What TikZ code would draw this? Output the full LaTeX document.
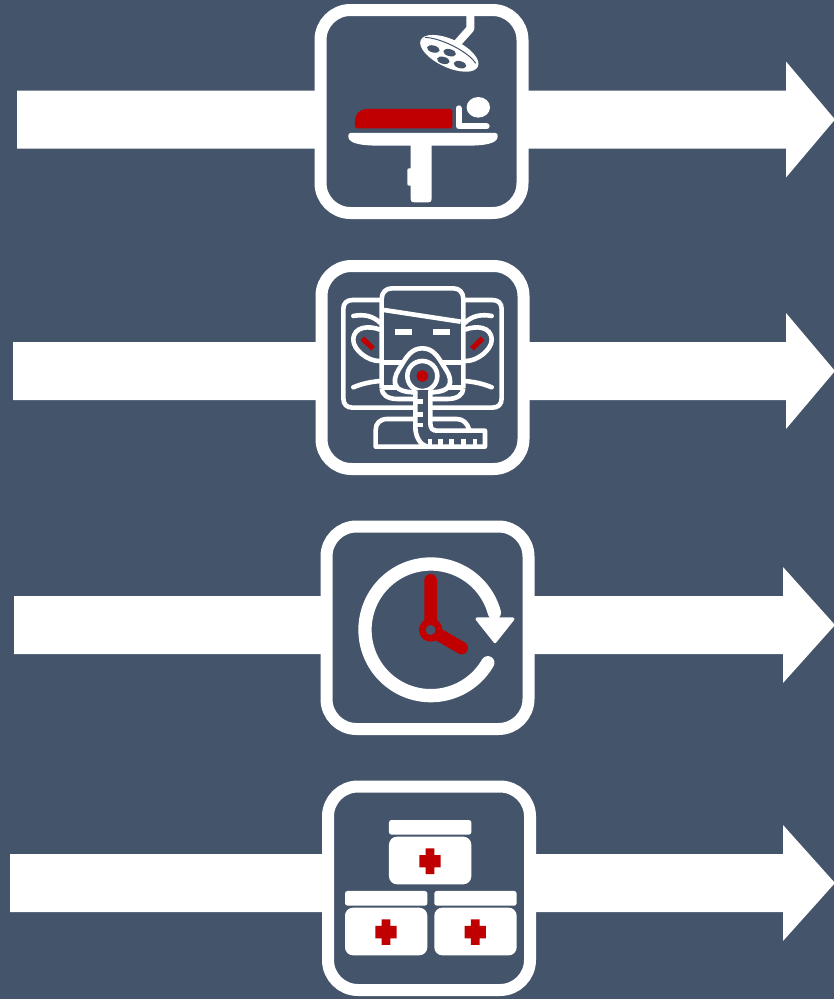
\documentclass[tikz,border=0pt]{standalone}
\definecolor{bgblue}{HTML}{44546A}
\definecolor{redmark}{HTML}{C00000}
\tikzset{
  bandarrow/.style={fill=white,draw=none},
  framebox/.style={draw=white,line width=12pt,rounded corners=30pt,fill=bgblue},
  thin line/.style={draw=white,line width=4.6pt,line cap=butt,line join=round},
  zoomed/.style={x=0.3333pt,y=-0.3333pt},
}
\newcommand{\bandarrow}[3]{% x start, y centre, head x
  \fill[bandarrow] (#1,#2-29) -- (#3,#2-29) -- (#3,#2-58) -- (835,#2) -- (#3,#2+58) -- (#3,#2+29) -- (#1,#2+29) -- cycle;}
\begin{document}
\begin{tikzpicture}[x=1pt,y=-1pt]
\useasboundingbox (0,0) rectangle (834,999);
\fill[bgblue] (0,0) rectangle (834,999);
\bandarrow{17}{119.5}{786}
\bandarrow{13}{371}{786}
\bandarrow{14}{625}{783}
\bandarrow{10}{883}{783}
\draw[framebox] (320.5,10) rectangle (522.5,213);
\draw[framebox] (321.5,266) rectangle (523.5,469);
\draw[framebox] (326.5,526.5) rectangle (528.5,729);
\draw[framebox] (328,786.5) rectangle (530,990);
% Icon 1: operating table
\begin{scope}[shift={(310,0)},zoomed]
  \draw[white,line width=8pt,line join=round] (481,45) -- (481,86) -- (440,132);
  \begin{scope}[shift={(418,160)},rotate=-25]
    \fill[white] (0,0) ellipse [x radius=31.5pt,y radius=14pt];
  \end{scope}
  \draw[bgblue,line width=1pt] (345,112) .. controls (400,115) and (480,160) .. (497,190);
  \foreach \hx/\hy in {370/147,419/158,400/181,450/194}{
    \begin{scope}[shift={(\hx,\hy)},rotate=-15]
      \fill[bgblue] (0,0) ellipse [x radius=6.5pt,y radius=3.5pt];
    \end{scope}}
  \fill[redmark] (135,380) .. controls (135,384) and (136,385) .. (140,385) -- (422,385) .. controls (426,385) and (427,384) .. (427,380) -- (427,332) .. controls (427,328) and (426,327) .. (422,327) -- (170,327) .. controls (150,327) and (135,342) .. (135,362) -- cycle;
  \fill[white] (505,322) ellipse [x radius=11.7pt,y radius=10.3pt];
  \draw[white,line width=6pt,line cap=round,line join=round] (446,325) -- (446,379) -- (530,379);
  \fill[white] (122,399) -- (556,399) .. controls (562,399) and (564,402) .. (563,410) .. controls (562,430) and (528,437) .. (470,437) -- (365,437) -- (365,597) .. controls (365,604) and (362,607) .. (355,607) -- (312,607) .. controls (305,607) and (302,604) .. (302,597) -- (302,557) -- (297,557) .. controls (293,557) and (292,555) .. (292,551) -- (292,511) .. controls (292,507) and (293,505) .. (297,505) -- (302,505) -- (302,437) -- (210,437) .. controls (150,437) and (116,430) .. (115,410) .. controls (114,402) and (116,399) .. (122,399) -- cycle;
\end{scope}
% Icon 2: face with mask
\begin{scope}[shift={(310,255)},zoomed]
  \draw[thin line] (215,400) -- (215,132) .. controls (215,112) and (228,100) .. (246,100) -- (430,100) .. controls (448,100) and (460,112) .. (460,132) -- (460,400);
  \draw[thin line] (215,135) -- (128,135) .. controls (110,135) and (100,145) .. (100,162) -- (100,430) .. controls (100,448) and (110,458) .. (128,458) -- (312,458);
  \draw[thin line] (460,135) -- (547,135) .. controls (565,135) and (575,145) .. (575,162) -- (575,430) .. controls (575,448) and (565,458) .. (547,458) -- (365,458);
  \draw[thin line] (215,400) .. controls (215,420) and (235,432) .. (262,432) -- (312,432);
  \draw[thin line] (460,400) .. controls (460,420) and (440,432) .. (413,432) -- (365,432);
  \draw[thin line] (222,165) -- (452,200);
  \draw[thin line,line cap=round] (130,183) .. controls (160,177) and (190,182) .. (212,205);
  \draw[thin line,line cap=round] (545,183) .. controls (515,177) and (485,182) .. (463,205);
  \draw[thin line,line cap=round] (130,397) .. controls (155,386) and (185,380) .. (212,378);
  \draw[thin line,line cap=round] (545,397) .. controls (520,386) and (490,380) .. (463,378);
  \draw[thin line] (210,224) .. controls (180,212) and (130,212) .. (130,255) .. controls (130,285) and (175,320) .. (210,318);
  \draw[thin line] (465,224) .. controls (495,212) and (545,212) .. (545,255) .. controls (545,285) and (500,320) .. (465,318);
  \fill[white] (255,222) rectangle (305,240);
  \fill[white] (370,222) rectangle (420,240);
  \draw[redmark,line width=5.2pt] (157,250) -- (189,281);
  \draw[redmark,line width=5.2pt] (518,250) -- (486,281);
  \draw[thin line] (215,322) -- (282,322);
  \draw[thin line] (392,322) -- (460,322);
  \draw[thin line] (215,398) -- (258,398);
  \draw[thin line] (417,398) -- (460,398);
  \draw[thin line,fill=bgblue] (337,280) .. controls (305,280) and (290,305) .. (275,330) .. controls (262,350) and (252,365) .. (255,385) .. controls (258,405) and (285,412) .. (315,412) -- (360,412) .. controls (390,412) and (417,405) .. (420,385) .. controls (423,365) and (412,350) .. (399,330) .. controls (384,305) and (369,280) .. (337,280) -- cycle;
  \draw[thin line] (337,363) circle [radius=15pt];
  \fill[redmark] (337,363) circle [radius=5.7pt];
  \fill[bgblue] (318,406) rectangle (358,420);
  \draw[thin line] (316,406) -- (316,515) .. controls (316,545) and (330,568) .. (350,575);
  \draw[thin line] (361,406) -- (361,505) .. controls (361,520) and (368,527) .. (380,527) -- (525,527) -- (525,575) -- (197,575) -- (197,525) .. controls (197,505) and (210,492) .. (232,492) -- (312,492);
  \draw[thin line] (365,492) -- (440,492) .. controls (460,492) and (472,505) .. (478,525);
  \foreach \ty in {440,478,510}{\draw[thin line] (316,\ty) -- (338,\ty);}
  \foreach \tx in {360,392,425,460,495}{\draw[thin line] (\tx,552) -- (\tx,575);}
\end{scope}
% Icon 3: clock
\begin{scope}[shift={(315,515)},zoomed]
  \draw[white,line width=13.3pt,line cap=round] plot[domain=30:345,samples=120] ({347.5+197.5*cos(\x)},{344.5+197.5*sin(\x)});
  \fill[white,draw=white,line width=3pt,line join=round] (486,312) -- (594,312) -- (540,380) -- cycle;
  \draw[redmark,line width=12.7pt,line cap=round,line join=round] (347,196) -- (347,345) -- (440,399);
  \fill[redmark] (347,345) circle [radius=11.7pt];
  \fill[bgblue] (347,345) circle [radius=5pt];
\end{scope}
% Icon 4: medicine boxes
\begin{scope}[shift={(315,775)},zoomed]
  \foreach \bx/\by in {222/135,90/348,358/348}{
    \fill[white,rounded corners=2.5pt] (\bx,\by) rectangle ++(247,44);
    \fill[white,rounded corners=8pt] (\bx,\by+50) rectangle ++(247,143);
    \fill[redmark] (\bx+91,\by+105) -- ++(19,0) -- ++(0,-20) -- ++(26,0) -- ++(0,20) -- ++(19,0) -- ++(0,37) -- ++(-19,0) -- ++(0,20) -- ++(-26,0) -- ++(0,-20) -- ++(-19,0) -- cycle;
  }
\end{scope}
\end{tikzpicture}
\end{document}
